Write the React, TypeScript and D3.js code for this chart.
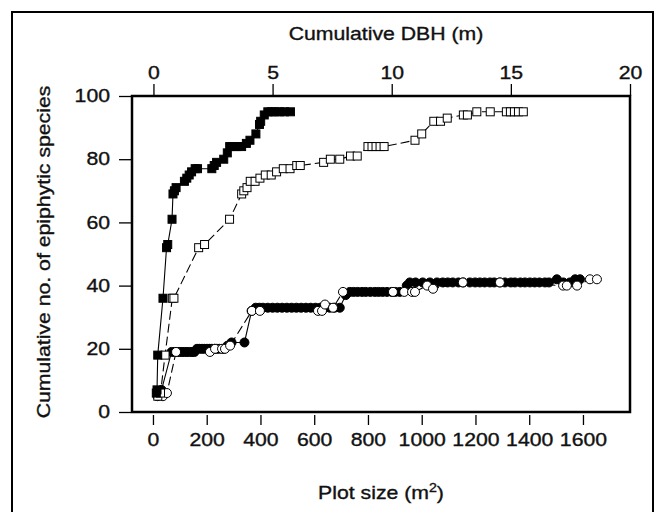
import * as React from 'react';
import * as d3 from 'd3';

// filled squares: species vs cumulative DBH (m, top axis)
const sqDbh = [0.12, 0.15, 0.18, 0.4, 0.55, 0.6, 0.78, 0.82, 0.88, 0.95,
    1.3, 1.4, 1.5, 1.6, 1.75, 1.85, 2.45, 2.55, 2.65, 2.95,
    3.1, 3.2, 3.35, 3.5, 3.7, 3.9, 4.05, 4.3, 4.45, 4.5,
    4.65, 4.8, 4.95, 5.1, 5.3, 5.5, 5.75];
const sqDbhSpecies = [6, 7, 18, 36, 52, 53, 61, 69, 70, 71,
    73, 74, 75, 76, 77, 77, 77, 78, 79, 80,
    82, 84, 84, 84, 84, 85, 86, 88, 91, 92,
    94, 95, 95, 95, 95, 95, 95];

// open squares: species vs plot size (m2, bottom axis)
const sqPlot = [18, 28, 45, 72, 78, 170, 192, 285, 330, 338,
    350, 362, 380, 398, 418, 440, 460, 485, 510, 535,
    548, 635, 660, 695, 735, 760, 800, 815, 830, 845,
    860, 975, 1000, 1045, 1070, 1095, 1155, 1170, 1205, 1255,
    1315, 1330, 1345, 1360, 1378];
const sqPlotSpecies = [5, 6, 18, 36, 36, 52, 53, 61, 69, 70,
    71, 73, 73, 74, 75, 75, 76, 77, 77, 78,
    78, 79, 80, 80, 81, 81, 84, 84, 84, 84,
    84, 86, 88, 92, 92, 93, 94, 94, 95, 95,
    95, 95, 95, 95, 95];

// filled circles: species vs cumulative DBH (m)
const ciDbh = [0.17, 0.25, 0.34,
    0.76, 0.88, 1.0, 1.09, 1.2, 1.3, 1.4, 1.51, 1.62, 1.72,
    1.83, 1.93, 2.04, 2.14, 2.25, 2.35, 2.45, 2.56, 2.66, 2.77, 2.95,
    3.11, 3.28, 3.82,
    4.12, 4.29, 4.45, 4.6, 4.8, 5.0, 5.2, 5.4, 5.6, 5.8,
    6.0, 6.2, 6.4, 6.6, 6.8, 7.0, 7.2, 7.4, 7.6, 7.82,
    8.07, 8.24, 8.4, 8.57, 8.75, 8.91, 9.1, 9.29, 9.45, 9.62, 9.8, 10.0, 10.15, 10.34,
    10.63, 10.76, 11.0, 11.3, 11.6, 11.9, 12.14, 12.35, 12.56, 12.8,
    13.0, 13.28, 13.5, 13.7, 13.9, 14.12, 14.3, 14.54, 14.75, 15.0,
    15.17, 15.4, 15.59, 15.8, 16.0, 16.2, 16.43, 16.6, 16.93, 17.2,
    17.48, 17.7, 17.9];
const ciDbhSpecies = [5, 6, 7,
    19, 19, 19, 19, 19, 19, 19, 19, 19, 19,
    20, 20, 20, 20, 20, 20, 20, 20, 20, 20, 20,
    21, 22, 22,
    32, 33, 33, 33, 33, 33, 33, 33, 33, 33,
    33, 33, 33, 33, 33, 33, 33, 33, 33, 33,
    37, 38, 38, 38, 38, 38, 38, 38, 38, 38, 38, 38, 38, 38,
    40, 41, 41, 41, 41, 41, 41, 41, 41, 41,
    41, 41, 41, 41, 41, 41, 41, 41, 41, 41,
    41, 41, 41, 41, 41, 41, 41, 41, 42, 41,
    41, 42, 42];

// open circles: species vs plot size (m2)
const ciPlot = [37, 52, 86, 212, 231, 257, 268, 287, 368, 398,
    614, 629, 640, 670, 707, 893, 935, 964, 975, 1020,
    1042, 1153, 1291, 1526, 1540, 1578, 1626, 1652];
const ciPlotSpecies = [5, 6, 19, 19, 20, 20, 20, 21, 32, 32,
    32, 32, 34, 33, 38, 38, 38, 38, 38, 40,
    39, 41, 41, 40, 40, 40, 42, 42];

const plotTicks = [0, 200, 400, 600, 800, 1000, 1200, 1400, 1600];
const dbhTicks = [0, 5, 10, 15, 20];
const speciesTicks = [0, 20, 40, 60, 80, 100];

export default class App extends React.PureComponent {

    svg: SVGSVGElement | null = null;

    componentDidMount() {
        this._draw();
    }

    _draw() {
        let width = 655;
        let height = 512;
        let frame = { left: 132, right: 630, top: 96, bottom: 412 };
        let font = "'Liberation Sans', Arial, sans-serif";
        let stretch = 'scale(1.18,1)';
        let ink = '#111';

        let svg = d3.select(this.svg)
            .attr('width', width)
            .attr('height', height);
        svg.selectAll('*').remove();

        let xPlot = d3.scaleLinear().domain([-78, 1775]).range([frame.left, frame.right]);
        let xDbh = d3.scaleLinear().domain([-0.9, 20]).range([frame.left, frame.right]);
        let y = d3.scaleLinear().domain([0, 100]).range([frame.bottom, frame.top]);

        svg.append('rect')
            .attr('width', width).attr('height', height).attr('fill', '#fff');

        // outer border of the figure
        svg.append('rect')
            .attr('x', 12).attr('y', 12)
            .attr('width', 641).attr('height', 560)
            .attr('fill', 'none').attr('stroke', '#000').attr('stroke-width', 2);

        let textStyle = (t: any) => t
            .attr('font-family', font)
            .attr('font-size', 18)
            .attr('fill', ink)
            .attr('stroke', ink)
            .attr('stroke-width', 0.35);

        let styleAxis = (g: any) => {
            g.select('.domain').remove();
            g.selectAll('line').attr('stroke', '#000').attr('stroke-width', 1.3);
            g.selectAll('text')
                .call(textStyle)
                .attr('transform', stretch);
        };

        let fmt = d3.format('d');

        svg.append('g')
            .attr('transform', 'translate(0,' + (frame.bottom + 3) + ')')
            .call(d3.axisBottom(xPlot).tickValues(plotTicks).tickFormat(fmt).tickSize(10).tickPadding(8))
            .call(styleAxis);

        svg.append('g')
            .attr('transform', 'translate(0,' + frame.top + ')')
            .call(d3.axisTop(xDbh).tickValues(dbhTicks).tickFormat(fmt).tickSize(12).tickPadding(5))
            .call(styleAxis);

        svg.append('g')
            .attr('transform', 'translate(' + (frame.left - 1) + ',0)')
            .call(d3.axisLeft(y).tickValues(speciesTicks).tickFormat(fmt).tickSize(12).tickPadding(5.8))
            .call(styleAxis);

        // axis titles
        svg.append('g')
            .attr('transform', 'translate(386,40) ' + stretch)
            .append('text')
            .attr('text-anchor', 'middle')
            .call(textStyle)
            .text('Cumulative DBH (m)');

        let bottomTitle = svg.append('g')
            .attr('transform', 'translate(381,499) ' + stretch)
            .append('text')
            .attr('text-anchor', 'middle')
            .call(textStyle);
        bottomTitle.append('tspan').text('Plot size (m');
        bottomTitle.append('tspan').attr('font-size', 12).attr('dy', -7).text('2');
        bottomTitle.append('tspan').attr('dy', 7).text(')');

        svg.append('g')
            .attr('transform', 'translate(50,252) rotate(-90) ' + stretch)
            .append('text')
            .attr('text-anchor', 'middle')
            .call(textStyle)
            .text('Cumulative no. of epiphytic species');

        let plot = svg.append('g');

        let drawSeries = (xs: number[], ys: number[], xScale: any, filled: boolean, shape: string) => {
            let pts = xs.map((v, i) => [xScale(v), y(ys[i])] as [number, number]);
            plot.append('path')
                .attr('d', d3.line()(pts))
                .attr('fill', 'none')
                .attr('stroke', '#000')
                .attr('stroke-width', 1.1)
                .attr('stroke-dasharray', filled ? null : '9,4');
            let marks = plot.append('g');
            if (shape === 'square') {
                marks.selectAll('rect')
                    .data(pts)
                    .enter()
                    .append('rect')
                    .attr('x', (p) => p[0] - 4)
                    .attr('y', (p) => p[1] - 4)
                    .attr('width', 8)
                    .attr('height', 8)
                    .attr('fill', filled ? '#000' : '#fff')
                    .attr('stroke', '#000')
                    .attr('stroke-width', 1);
            } else {
                marks.selectAll('circle')
                    .data(pts)
                    .enter()
                    .append('circle')
                    .attr('cx', (p) => p[0])
                    .attr('cy', (p) => p[1])
                    .attr('r', 4.5)
                    .attr('fill', filled ? '#000' : '#fff')
                    .attr('stroke', '#000')
                    .attr('stroke-width', 1);
            }
        };

        drawSeries(ciDbh, ciDbhSpecies, xDbh, true, 'circle');
        drawSeries(ciPlot, ciPlotSpecies, xPlot, false, 'circle');
        drawSeries(sqPlot, sqPlotSpecies, xPlot, false, 'square');
        drawSeries(sqDbh, sqDbhSpecies, xDbh, true, 'square');

        // plot frame
        svg.append('rect')
            .attr('x', frame.left).attr('y', frame.top)
            .attr('width', frame.right - frame.left)
            .attr('height', frame.bottom - frame.top)
            .attr('fill', 'none').attr('stroke', '#000').attr('stroke-width', 2.5);
    }

    render() {
        return (
            <svg
                ref={(svg) => { this.svg = svg; }}
                style={{ position: 'absolute', left: 0, top: 0, display: 'block' }}
            ></svg>
        );
    }
}
